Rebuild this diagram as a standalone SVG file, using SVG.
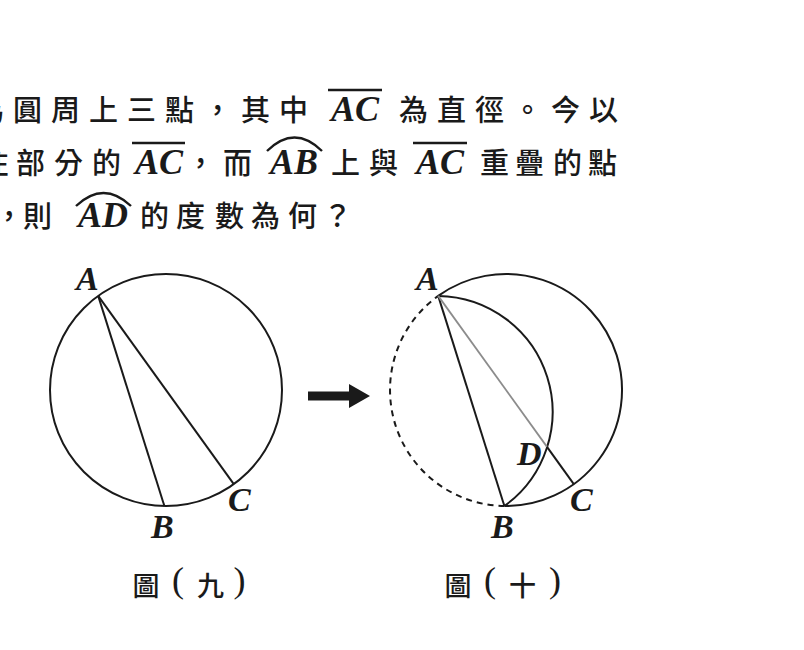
<svg xmlns="http://www.w3.org/2000/svg" width="804" height="650" viewBox="0 0 804 650">
<style>
.cjk{font-family:"Noto Sans CJK TC","Noto Sans CJK SC",sans-serif;fill:#1a1a1a;font-weight:500}
.t{font-size:29px}
.lat{font-family:"Liberation Serif","Times New Roman",serif;font-weight:bold;font-style:italic;fill:#1a1a1a}
.lt{font-size:36px}
.lbl{font-size:34px}
.bar{stroke:#1a1a1a;stroke-width:2.4;fill:none}
.ln{stroke:#1a1a1a;stroke-width:2;fill:none}
.gray{stroke:#8c8c8c;stroke-width:1.8;fill:none}
.dash{stroke:#1a1a1a;stroke-width:2;fill:none;stroke-dasharray:6 5}
.cap{font-size:27px}
.par{font-family:"Liberation Serif","Times New Roman",serif;font-size:36px;fill:#1a1a1a}
</style>
<rect width="804" height="650" fill="#ffffff"/>

<g id="question">
  <text class="cjk t" y="121" x="-25 13 51 89 127 165 203 241 279">為圓周上三點，其中</text>
  <text class="lat lt" x="331" y="121">AC</text>
  <line class="bar" x1="328" y1="90" x2="382" y2="90"/>
  <text class="cjk t" y="121" x="399 437 475 513 551 589">為直徑。今以</text>

  <text class="cjk t" y="174" x="-20.5 16 54 92">住部分的</text>
  <text class="lat lt" x="135" y="174">AC</text>
  <line class="bar" x1="132" y1="143" x2="185" y2="143"/>
  <text class="cjk t" y="174" x="186 223">，而</text>
  <text class="lat lt" x="270" y="174">AB</text>
  <path class="bar" d="M267 151 Q294.5 124 322 151"/>
  <text class="cjk t" y="174" x="331 369">上與</text>
  <text class="lat lt" x="416" y="174">AC</text>
  <line class="bar" x1="413" y1="143" x2="467" y2="143"/>
  <text class="cjk t" y="174" x="480 515 553 588">重疊的點</text>

  <text class="cjk t" y="227" x="-5.5 23">，則</text>
  <text class="lat lt" x="78" y="227">AD</text>
  <path class="bar" d="M76 206 Q103.5 180 131 206"/>
  <text class="cjk t" y="227" x="140 176 215 251 288 323">的度數為何？</text>
</g>

<g id="figure9">
  <circle id="circle9" class="ln" cx="166" cy="390" r="116"/>
  <g id="connectors9">
    <line class="ln" x1="98.2" y1="295.9" x2="164.4" y2="506"/>
    <line class="ln" x1="98.2" y1="295.9" x2="233.8" y2="484.1"/>
  </g>
  <g id="labelA9"><text class="lat lbl" x="76" y="290">A</text></g>
  <g id="labelB9"><text class="lat lbl" x="151" y="538">B</text></g>
  <g id="labelC9"><text class="lat lbl" x="228" y="511">C</text></g>
  <g id="caption9">
    <text class="cjk cap" x="132.5" y="596">圖</text>
    <text class="par" x="172" y="592">(</text>
    <text class="cjk cap" x="197" y="596">九</text>
    <text class="par" x="233.5" y="592">)</text>
  </g>
</g>

<g id="arrow">
  <polygon points="308,391.5 349,391.5 349,384 370,396 349,408 349,400.5 308,400.5" fill="#1a1a1a"/>
</g>

<g id="figure10">
  <g id="circle10">
    <path class="ln" d="M438.2 295.9 A116 116 0 1 1 504.4 506"/>
    <path class="dash" d="M504.4 506 A116 116 0 0 1 438.2 295.9"/>
  </g>
  <path id="foldedArc" class="ln" d="M438.2 295.9 A116 116 0 0 1 504.4 506"/>
  <g id="connectors10">
    <line class="ln" x1="438.2" y1="295.9" x2="504.4" y2="506"/>
    <line class="gray" x1="438.2" y1="295.9" x2="547" y2="446.9"/>
    <line class="ln" x1="547" y1="446.9" x2="573.8" y2="484.1"/>
  </g>
  <g id="labelA10"><text class="lat lbl" x="416" y="290">A</text></g>
  <g id="labelB10"><text class="lat lbl" x="491" y="538">B</text></g>
  <g id="labelC10"><text class="lat lbl" x="570" y="511">C</text></g>
  <g id="labelD10"><text class="lat lbl" x="517" y="465">D</text></g>
  <g id="caption10">
    <text class="cjk cap" x="444.5" y="596">圖</text>
    <text class="par" x="484" y="592">(</text>
    <text class="cjk cap" x="509" y="596">十</text>
    <text class="par" x="549" y="592">)</text>
  </g>
</g>
</svg>
